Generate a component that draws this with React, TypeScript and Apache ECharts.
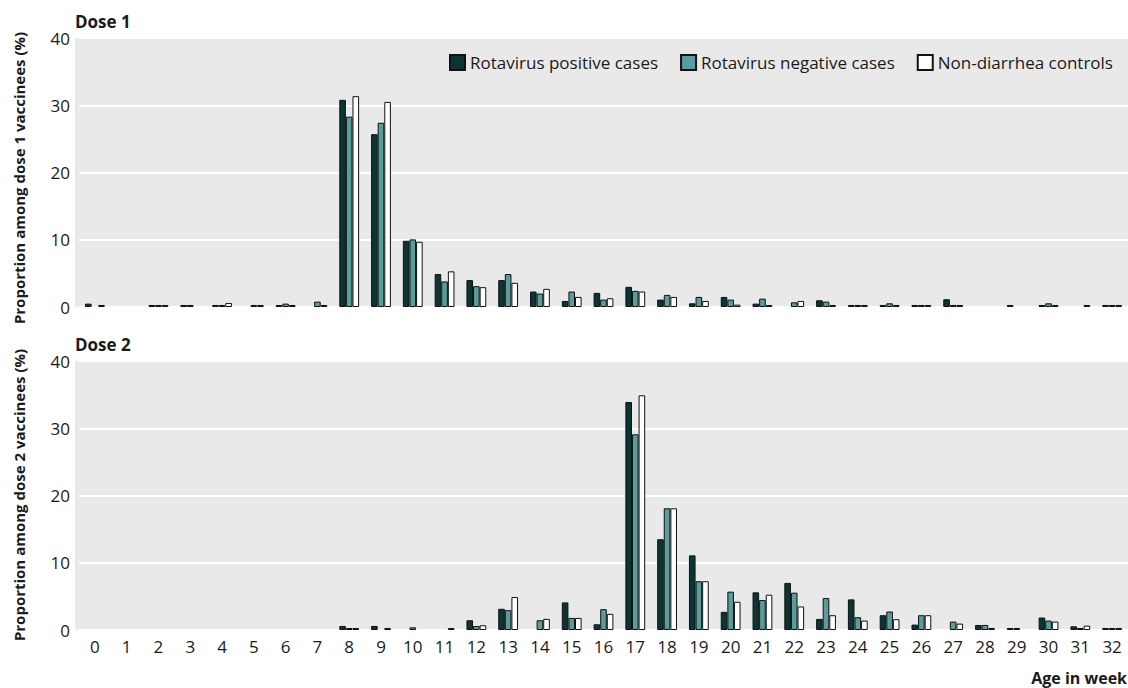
import React, { useEffect, useRef } from "react";
import * as echarts from "echarts";

const weeks = ["0","1","2","3","4","5","6","7","8","9","10","11","12","13","14","15","16","17","18","19","20","21","22","23","24","25","26","27","28","29","30","31","32"];
const yTicksMax = 40;
const yTickStep = 10;
const seriesNames = ["Rotavirus positive cases", "Rotavirus negative cases", "Non-diarrhea controls"];
const seriesColors = ["#0b3535", "#5a9b9b", "#ffffff"];

// Dose 1 (%), weeks 0..32
const dose1Positive = [0.5,0,0.3,0.3,0.3,0,0.3,0,30.8,25.7,9.85,4.9,4.0,4.0,2.3,0.9,2.1,3.0,1.1,0.55,1.5,0.5,0,1.0,0.3,0.3,0.3,1.15,0,0.3,0.3,0,0.3];
const dose1Negative = [0,0,0.3,0.3,0.3,0.3,0.5,0.8,28.3,27.4,10.05,3.8,3.1,4.9,2.0,2.3,1.1,2.4,1.8,1.5,1.1,1.25,0.7,0.8,0.3,0.55,0.3,0.3,0,0,0.55,0,0.3];
const dose1Controls = [0.3,0,0.3,0,0.6,0.3,0.3,0.3,31.35,30.5,9.7,5.3,2.95,3.6,2.7,1.5,1.3,2.3,1.5,0.9,0.35,0.3,0.9,0.3,0.3,0.3,0.3,0.3,0,0,0.3,0.3,0.3];

// Dose 2 (%), weeks 0..32
const dose2Positive = [0,0,0,0,0,0,0,0,0.6,0.6,0,0,1.45,3.15,0,4.1,0.85,33.9,13.5,11.1,2.7,5.6,7.0,1.65,4.55,2.2,0.8,0,0.75,0.3,1.85,0.55,0.3];
const dose2Negative = [0,0,0,0,0,0,0,0,0.3,0,0.4,0,0.6,2.95,1.45,1.8,3.1,29.1,18.1,7.25,5.7,4.45,5.55,4.75,1.9,2.75,2.2,1.25,0.75,0.3,1.4,0.3,0.3];
const dose2Controls = [0,0,0,0,0,0,0,0,0.3,0.3,0,0.3,0.7,4.9,1.65,1.8,2.4,34.9,18.1,7.25,4.2,5.25,3.5,2.2,1.4,1.6,2.2,0.95,0.3,0,1.25,0.65,0.3];

const panelTitles = ["Dose 1", "Dose 2"];
const yTitles = ["Proportion among dose 1 vaccinees (%)", "Proportion among dose 2 vaccinees (%)"];
const xTitle = "Age in week";

export default function App() {
  const ref = useRef<HTMLDivElement>(null);
  useEffect(() => {
    document.body.style.margin = "0";
    const chart = echarts.init(ref.current!, null, { renderer: "svg" });
    const font = "'Open Sans', 'Noto Sans', sans-serif";
    const textColor = "#1a1a1a";
    const grids = [
      { left: 79, top: 38, width: 1058, height: 269 },
      { left: 79, top: 361, width: 1058, height: 269 },
    ];
    const mk = (data: number[], idx: number, g: number) => ({
      type: "bar",
      name: seriesNames[idx],
      xAxisIndex: g,
      yAxisIndex: g,
      data: data.map((v) => (v === 0 ? "-" : v)),
      barWidth: 6.6,
      barGap: "0%",
      itemStyle: { color: seriesColors[idx], borderColor: "#111", borderWidth: 1 },
      emphasis: { disabled: true },
    });
    const xAxes = grids.map((_, g) => ({
      type: "category",
      gridIndex: g,
      data: weeks,
      axisLine: { show: false },
      axisTick: { show: false },
      axisLabel: {
        show: g === 1,
        fontSize: 17,
        color: textColor,
        fontFamily: font,
        margin: 8,
        interval: 0,
      },
    }));
    const yAxes = grids.map((_, g) => ({
      type: "value",
      gridIndex: g,
      min: 0,
      max: yTicksMax,
      interval: yTickStep,
      axisLine: { show: false },
      axisTick: { show: false },
      axisLabel: { fontSize: 17, color: textColor, fontFamily: font, margin: 9 },
      splitLine: { show: true, lineStyle: { color: "#ffffff", width: 2 } },
    }));
    const bg = (top: number) => ({
      type: "rect",
      z: -10,
      shape: { x: 75, y: top, width: 1053, height: 269 },
      style: { fill: "#e9e9e9" },
      silent: true,
    });
    const title = (text: string, y: number) => ({
      type: "text",
      x: 75,
      y,
      style: { text, font: `bold 17px ${font}`, fill: textColor, verticalAlign: "middle" },
    });
    const ytitle = (text: string, y: number) => ({
      type: "text",
      x: 19,
      y,
      rotation: Math.PI / 2,
      style: { text, font: `bold 15px ${font}`, fill: textColor, align: "center", verticalAlign: "middle" },
    });
    chart.setOption({
      animation: false,
      grid: grids,
      xAxis: xAxes,
      yAxis: yAxes,
      legend: {
        data: seriesNames,
        left: 449,
        top: 54,
        width: 800,
        padding: 0,
        itemWidth: 15,
        itemHeight: 15,
        itemGap: 22,
        icon: "rect",
        textStyle: { fontSize: 17, color: textColor, fontFamily: font, padding: [0, 0, 0, 0] },
        selectedMode: false,
      },
      graphic: [
        bg(38),
        bg(361),
        title(panelTitles[0], 21),
        title(panelTitles[1], 344),
        ytitle(yTitles[0], 178),
        ytitle(yTitles[1], 495),
        {
          type: "text",
          x: 1127,
          y: 678,
          style: { text: xTitle, font: `bold 16px ${font}`, fill: textColor, align: "right", verticalAlign: "middle" },
        },
      ],
      series: [
        mk(dose1Positive, 0, 0),
        mk(dose1Negative, 1, 0),
        mk(dose1Controls, 2, 0),
        mk(dose2Positive, 0, 1),
        mk(dose2Negative, 1, 1),
        mk(dose2Controls, 2, 1),
      ],
    });
    return () => chart.dispose();
  }, []);
  return <div ref={ref} style={{ position: "absolute", left: 0, top: 0, width: 1128, height: 688 }} />;
}
